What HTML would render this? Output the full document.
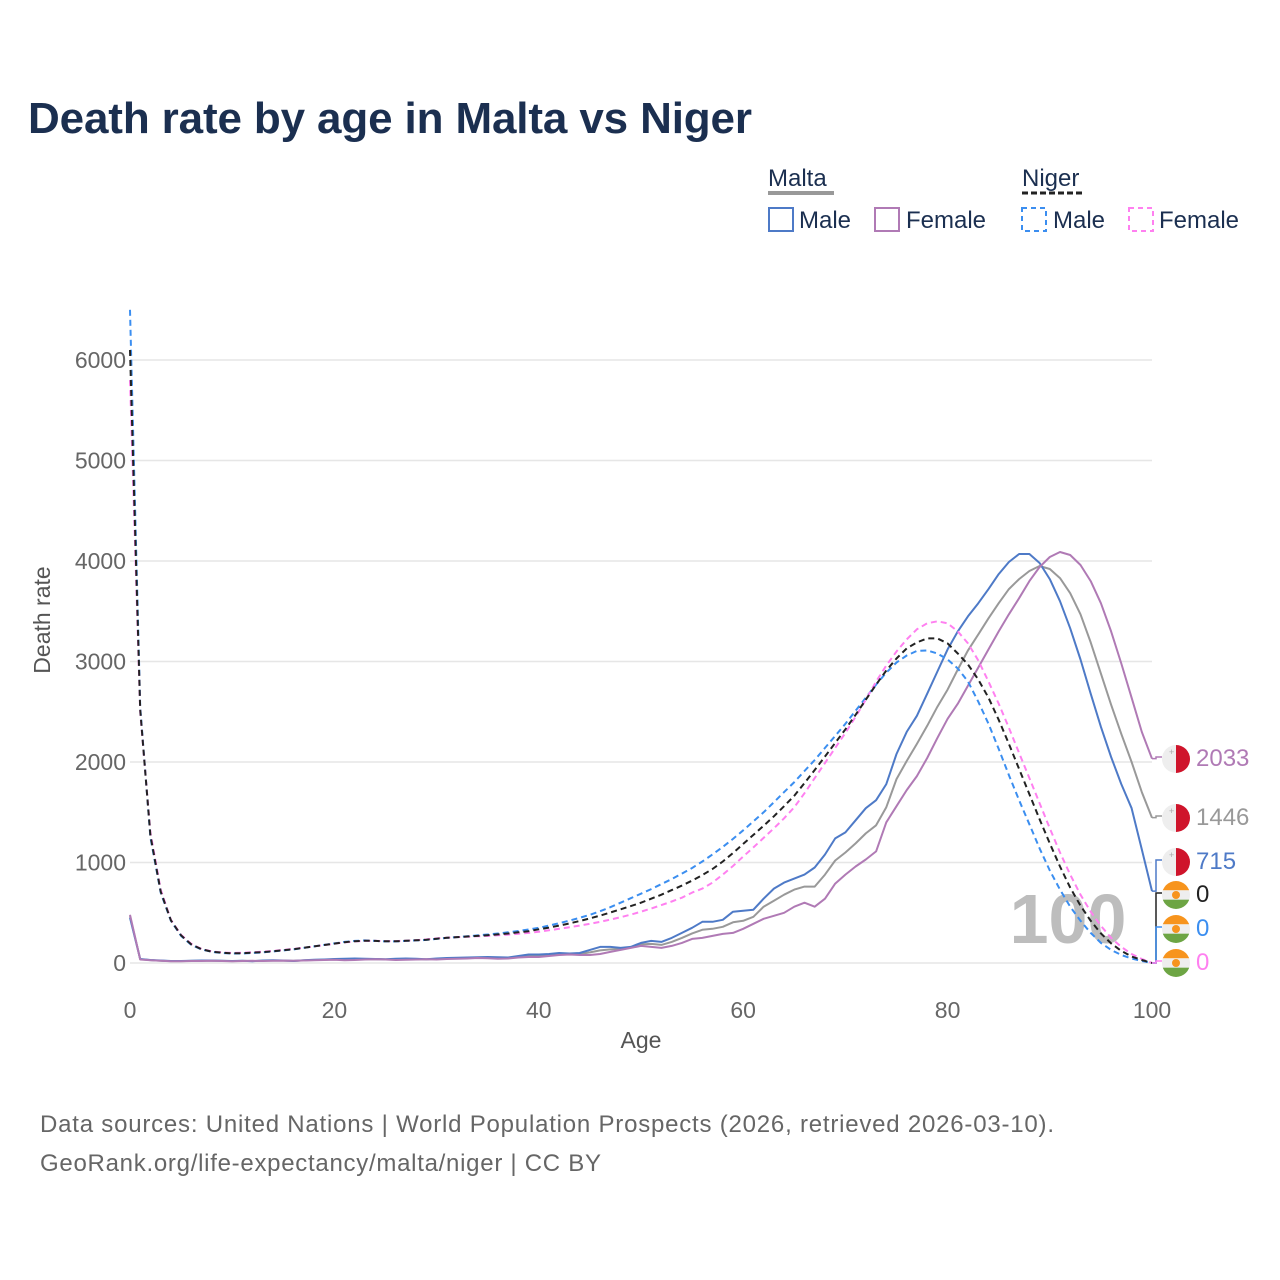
<!DOCTYPE html>
<html><head><meta charset="utf-8">
<style>
html,body{margin:0;padding:0;background:#fff;}
svg{display:block;font-family:"Liberation Sans",sans-serif;}
</style></head>
<body>
<svg id="chart" width="1280" height="1280" viewBox="0 0 1280 1280" xmlns="http://www.w3.org/2000/svg">
<text x="28" y="133" font-size="44" font-weight="bold" fill="#1b2f50" textLength="724">Death rate by age in Malta vs Niger</text>
<g font-size="24" fill="#1b2f50">
 <text x="768" y="186">Malta</text>
 <line x1="768" y1="193" x2="834" y2="193" stroke="#999" stroke-width="4"/>
 <text x="1022" y="186">Niger</text>
 <line x1="1022" y1="193" x2="1084" y2="193" stroke="#222" stroke-width="3" stroke-dasharray="6,3"/>
 <g><rect x="769" y="208" width="24" height="23" fill="none" stroke="#4e7ac7" stroke-width="2"/><text x="799" y="228">Male</text></g>
 <g><rect x="875" y="208" width="24" height="23" fill="none" stroke="#b07ab5" stroke-width="2"/><text x="906" y="228">Female</text></g>
 <g><rect x="1022" y="208" width="24" height="23" fill="none" stroke="#3b8ef0" stroke-width="2" stroke-dasharray="5,4"/><text x="1053" y="228">Male</text></g>
 <g><rect x="1129" y="208" width="24" height="23" fill="none" stroke="#ff80f0" stroke-width="2" stroke-dasharray="5,4"/><text x="1159" y="228">Female</text></g>
</g>
<g id="grid"></g>
<g id="axes"></g>
<text x="1068" y="943" font-size="70" font-weight="bold" fill="#bdbdbd" text-anchor="middle">100</text>
<g id="series"></g>
<g id="endlabels"></g>
<text x="50" y="620" font-size="23" fill="#555" text-anchor="middle" transform="rotate(-90 50 620)">Death rate</text>
<text x="641" y="1048" font-size="23" fill="#555" text-anchor="middle">Age</text>
<text x="40" y="1132" font-size="24" fill="#666" textLength="1014">Data sources: United Nations | World Population Prospects (2026, retrieved 2026-03-10).</text>
<text x="40" y="1171" font-size="24" fill="#666" textLength="561">GeoRank.org/life-expectancy/malta/niger | CC BY</text>
</svg>
<script>
const xTicks = [0,20,40,60,80,100];
const yTicks = [0,1000,2000,3000,4000,5000,6000];
const maltaMale = [450,40,30,25,20,20,22,25,25,22,20,22,18,25,28,25,20,28,32,35,40,42,45,42,40,38,42,45,42,38,45,50,52,55,58,60,58,55,70,85,85,90,100,95,100,130,160,160,150,160,200,220,210,250,300,350,410,410,430,510,520,530,640,740,800,840,880,950,1080,1240,1300,1420,1540,1620,1780,2080,2300,2460,2680,2900,3120,3300,3450,3580,3720,3870,3990,4070,4070,3980,3820,3600,3330,3020,2680,2350,2050,1780,1540,1130,715];
const maltaFemale = [480,35,28,22,18,18,20,20,22,20,18,20,22,20,22,24,22,25,28,30,32,28,30,35,38,35,30,32,35,38,35,40,42,45,50,48,42,45,55,60,60,70,80,85,80,80,90,110,130,150,170,160,150,170,200,240,250,270,290,300,340,390,440,470,500,560,600,560,640,790,880,960,1030,1110,1400,1560,1720,1860,2040,2240,2430,2580,2760,2940,3120,3300,3470,3630,3800,3940,4040,4090,4060,3960,3800,3580,3300,2980,2640,2300,2033];
const maltaTotal = [465,38,29,23,19,19,21,22,23,21,19,21,20,22,25,24,21,26,30,32,36,35,38,38,39,36,36,38,38,38,40,45,47,50,54,54,50,50,62,72,72,80,90,90,90,105,125,135,140,155,185,190,180,210,250,295,330,340,360,405,420,460,560,620,680,730,760,760,880,1020,1100,1190,1290,1370,1550,1830,2010,2180,2360,2550,2720,2920,3110,3270,3430,3580,3720,3820,3900,3950,3920,3830,3680,3470,3190,2880,2570,2280,2000,1700,1446];
const nigerMale = [6500,2550,1250,700,420,270,180,135,110,100,95,95,100,105,115,125,135,150,165,180,195,210,220,225,220,215,215,220,225,230,240,250,258,266,275,284,294,305,318,333,350,372,396,422,450,480,515,555,600,645,690,735,785,835,890,945,1010,1080,1155,1235,1320,1410,1500,1600,1700,1800,1910,2020,2140,2260,2380,2510,2640,2770,2890,2990,3060,3105,3110,3080,3020,2930,2800,2600,2380,2130,1870,1620,1380,1140,920,730,560,420,300,200,130,80,45,20,0];
const nigerFemale = [5800,2500,1300,730,430,280,190,140,115,105,100,102,106,112,120,130,140,152,165,178,192,205,215,220,220,218,218,222,228,235,245,252,258,262,266,270,276,283,292,300,310,325,340,356,372,390,410,432,456,482,510,542,576,612,650,700,740,800,880,965,1060,1150,1245,1340,1440,1550,1690,1840,1990,2140,2290,2450,2620,2800,2960,3100,3220,3320,3380,3400,3380,3300,3180,3010,2800,2580,2340,2090,1840,1590,1340,1100,880,680,510,370,250,160,90,40,0];
const nigerTotal = [6100,2520,1270,710,425,275,185,137,112,102,97,98,103,108,117,127,137,151,165,179,193,207,217,222,220,216,216,221,226,232,242,251,258,264,270,277,285,294,305,316,335,352,372,394,418,444,472,502,534,566,600,640,680,725,770,820,875,935,1010,1095,1185,1275,1365,1460,1560,1665,1790,1920,2055,2190,2325,2470,2620,2770,2910,3030,3130,3190,3230,3230,3180,3080,2970,2820,2640,2420,2180,1930,1680,1430,1190,960,750,570,420,295,195,120,65,30,0];

const NS='http://www.w3.org/2000/svg';
const X0=130,X1=1152,Y0=963,Y6=360;
function xs(a){return X0+(X1-X0)*a/100;}
function ys(v){return Y0+(Y6-Y0)*v/6000;}
function mk(tag,attrs,parent){const e=document.createElementNS(NS,tag);for(const k in attrs)e.setAttribute(k,attrs[k]);parent.appendChild(e);return e;}
const grid=document.getElementById('grid'),axes=document.getElementById('axes');
yTicks.forEach(v=>{
  const l=mk('line',{x1:X0,x2:X1,y1:ys(v),y2:ys(v),stroke:'#e6e6e6','stroke-width':1.5},grid);
  
  
  const t=mk('text',{x:126,y:ys(v)+8,'font-size':23,fill:'#666','text-anchor':'end'},axes);
  t.textContent=v;
  
  
});
xTicks.forEach(v=>{
  const t=mk('text',{x:xs(v),y:1018,'font-size':23,fill:'#666','text-anchor':'middle'},axes);
  t.textContent=v;
  
  
});
const series=[
 {d:maltaTotal,c:'#999999',dash:null,n:'line-malta-total'},
 {d:maltaMale,c:'#4e7ac7',dash:null,n:'line-malta-male'},
 {d:maltaFemale,c:'#b07ab5',dash:null,n:'line-malta-female'},
 {d:nigerMale,c:'#3b8ef0',dash:'6,4',n:'line-niger-male'},
 {d:nigerFemale,c:'#ff80f0',dash:'6,4',n:'line-niger-female'},
 {d:nigerTotal,c:'#222222',dash:'6,4',n:'line-niger-total'}
];
const sg=document.getElementById('series');
series.forEach(s=>{
  const pts=s.d.map((v,i)=>xs(i).toFixed(1)+','+ys(v).toFixed(1)).join(' ');
  const p=mk('polyline',{points:pts,fill:'none',stroke:s.c,'stroke-width':2,'stroke-linejoin':'round'},sg);
  if(s.dash)p.setAttribute('stroke-dasharray',s.dash);
  
  
});
const eg=document.getElementById('endlabels');
const labels=[
 {v:maltaFemale[100],y:757,c:'#b07ab5',flag:'mt',n:'end-label-malta-female'},
 {v:maltaTotal[100],y:816,c:'#999999',flag:'mt',n:'end-label-malta-total'},
 {v:maltaMale[100],y:860,c:'#4e7ac7',flag:'mt',n:'end-label-malta-male'},
 {v:nigerTotal[100],y:893,c:'#222222',flag:'ne',n:'end-label-niger-total'},
 {v:nigerMale[100],y:927,c:'#3b8ef0',flag:'ne',n:'end-label-niger-male'},
 {v:nigerFemale[100],y:961,c:'#ff80f0',flag:'ne',n:'end-label-niger-female'}
];
labels.forEach(L=>{
  const g=mk('g',{},eg);
  
  
  const yEnd=ys(L.v);
  mk('polyline',{points:`${X1},${yEnd} ${X1+4},${yEnd} ${X1+4},${L.y} ${X1+10},${L.y}`,fill:'none',stroke:L.c,'stroke-width':1.5},g);
  const cx=1176,cy=L.y+2,r=14;
  if(L.flag==='mt'){
    mk('circle',{cx:cx,cy:cy,r:r,fill:'#eeeeee'},g);
    mk('path',{d:`M${cx},${cy-r} A${r},${r} 0 0 1 ${cx},${cy+r} Z`,fill:'#cf142b'},g);
    mk('text',{x:cx-7,y:cy-4,'font-size':9,fill:'#aaa'},g).textContent='+';
  } else {
    mk('clipPath',{id:'c'+L.n},g);
    const cp=g.lastChild;
    mk('circle',{cx:cx,cy:cy,r:r},cp);
    const fg=mk('g',{'clip-path':'url(#c'+L.n+')'},g);
    mk('rect',{x:cx-r,y:cy-r,width:2*r,height:2*r/3,fill:'#f7941d'},fg);
    mk('rect',{x:cx-r,y:cy-r/3,width:2*r,height:2*r/3,fill:'#eeeeee'},fg);
    mk('rect',{x:cx-r,y:cy+r/3,width:2*r,height:2*r/3,fill:'#6da544'},fg);
    mk('circle',{cx:cx,cy:cy,r:4,fill:'#f7941d'},fg);
  }
  const t=mk('text',{x:1196,y:L.y+9,'font-size':24,fill:L.c},g);
  t.textContent=L.v;
});
</script>
</body></html>
